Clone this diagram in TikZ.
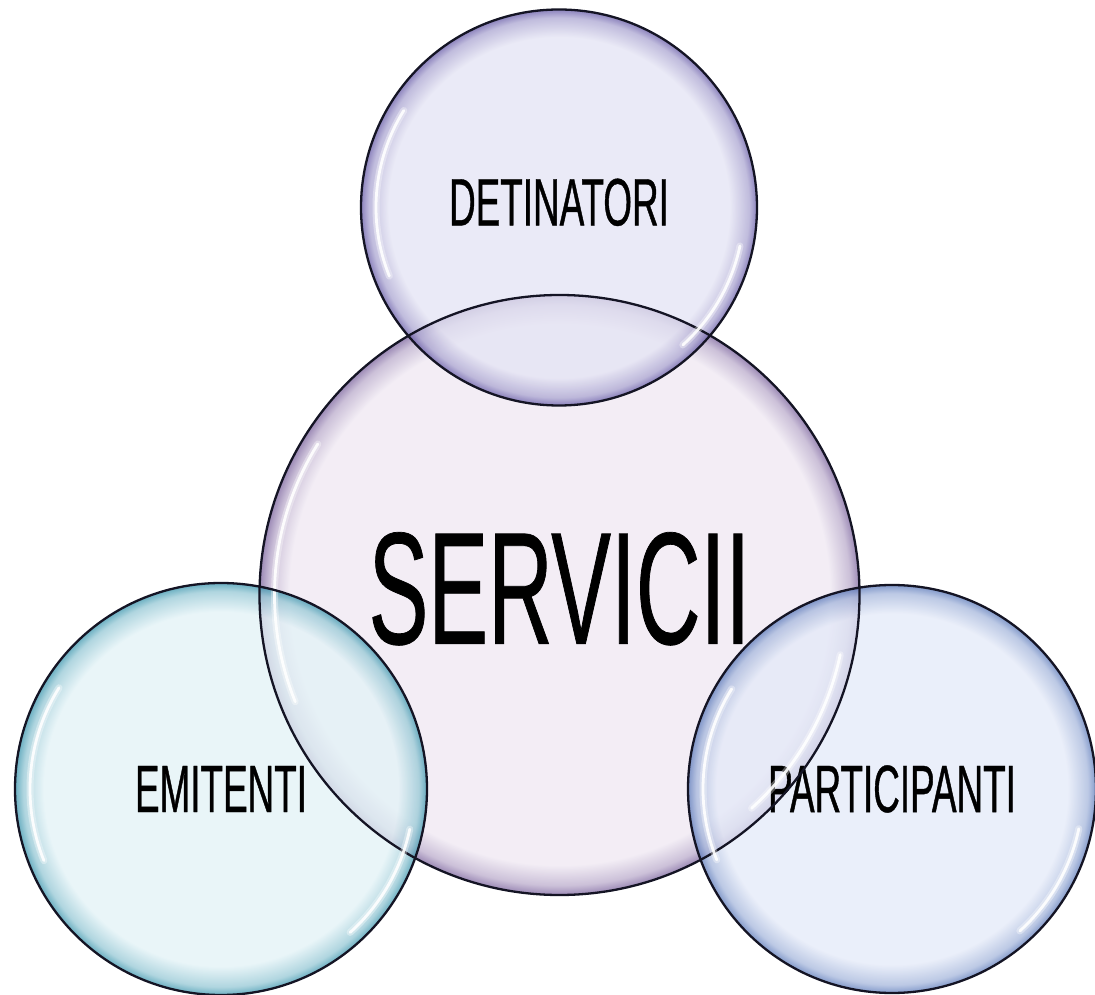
\documentclass[tikz,border=0pt]{standalone}
\usepackage{fontspec}
\usepackage{tikz}
\newfontfamily\condfont[FakeStretch=0.55,FakeBold=0.6]{Liberation Sans}
\newfontfamily\servfont[FakeStretch=0.56,FakeBold=0.45]{Liberation Sans}
\definecolor{rimline}{RGB}{20, 20, 36}
\definecolor{detfill}{RGB}{228, 228, 244}
\definecolor{detrim}{RGB}{104, 92, 168}
\definecolor{servfill}{RGB}{239, 232, 242}
\definecolor{servrim}{RGB}{124, 100, 158}
\definecolor{emitfill}{RGB}{226, 242, 246}
\definecolor{emitrim}{RGB}{60, 150, 174}
\definecolor{partfill}{RGB}{228, 234, 248}
\definecolor{partrim}{RGB}{92, 122, 186}
\pgfdeclareradialshading{detshade}{\pgfpoint{0bp}{0bp}}{color(0bp)=(detfill); color(21.5bp)=(detfill); color(24bp)=(detrim!45!detfill); color(25bp)=(detrim); color(50bp)=(detrim)}
\pgfdeclareradialshading{servshade}{\pgfpoint{0bp}{0bp}}{color(0bp)=(servfill); color(22.5bp)=(servfill); color(24.2bp)=(servrim!45!servfill); color(25bp)=(servrim); color(50bp)=(servrim)}
\pgfdeclareradialshading{emitshade}{\pgfpoint{0bp}{0bp}}{color(0bp)=(emitfill); color(21.5bp)=(emitfill); color(24bp)=(emitrim!45!emitfill); color(25bp)=(emitrim); color(50bp)=(emitrim)}
\pgfdeclareradialshading{partshade}{\pgfpoint{0bp}{0bp}}{color(0bp)=(partfill); color(21.5bp)=(partfill); color(24bp)=(partrim!45!partfill); color(25bp)=(partrim); color(50bp)=(partrim)}

\begin{document}
\begin{tikzpicture}[
    x=1pt, y=1pt,
    bubble/.style={circle, inner sep=0pt, fill opacity=0.76, text opacity=1, text=black},
    label/.style={font=\condfont\fontsize{67}{67}\selectfont},
    detbub/.style={bubble, label, shading=detshade, minimum size=396pt, text depth=11pt},
    servbub/.style={bubble, shading=servshade, minimum size=600pt, text depth=14pt, font=\servfont\fontsize{160}{160}\selectfont},
    emitbub/.style={bubble, label, shading=emitshade, minimum size=412pt},
    partbub/.style={bubble, label, shading=partshade, minimum size=408pt},
    rim/.style={draw=rimline, line width=2.3pt},
    glow/.style={draw=white, line width=7pt, line cap=round, opacity=0.35},
    hilite/.style={draw=white, line width=2.8pt, line cap=round, opacity=0.9}
]
\useasboundingbox (0,0) rectangle (1095,994);

% Centre
\node[servbub] (serv) at (559.5,399) {SERVICII};

% Outer bubbles
\node[detbub] (det) at (559,786.5) {DETINATORI};
\node[emitbub] (emit) at (221,205) {EMITENTI};
\node[partbub] (part) at (892,205) {PARTICIPANTI};

% Rims and glossy highlights
\foreach \n/\r in {serv/300, det/198, emit/206, part/204}{
    \draw[rim] (\n.center) circle[radius=\r];
    \draw[glow] (\n.center) ++(148:\r-15) arc[start angle=148, end angle=202, radius=\r-15];
    \draw[hilite] (\n.center) ++(148:\r-15) arc[start angle=148, end angle=202, radius=\r-15];
    \draw[glow] (\n.center) ++(-12:\r-13) arc[start angle=-12, end angle=-48, radius=\r-13];
    \draw[hilite] (\n.center) ++(-12:\r-13) arc[start angle=-12, end angle=-48, radius=\r-13];
}

\end{tikzpicture}
\end{document}
